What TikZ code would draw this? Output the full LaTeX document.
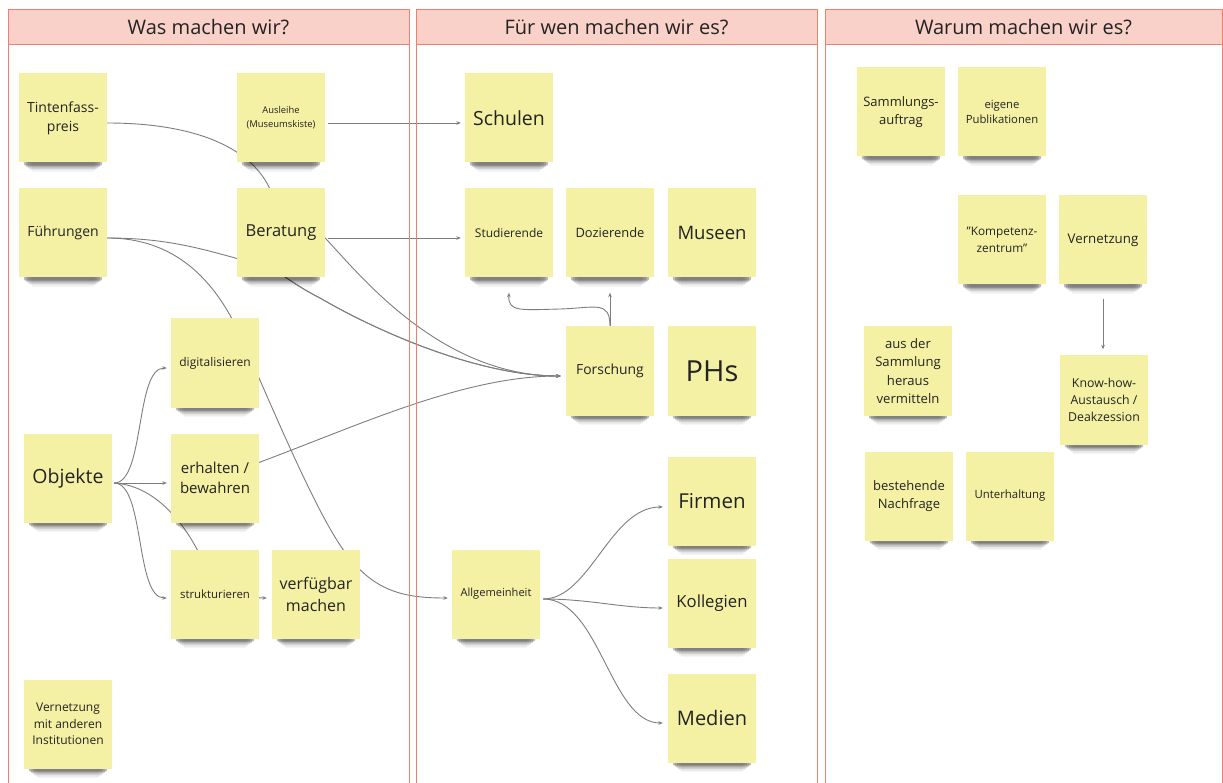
\documentclass[tikz,border=0pt]{standalone}
\usepackage{fontspec}
\setmainfont{Open Sans}
\usetikzlibrary{arrows.meta,calc}
\pgfdeclarelayer{lines}
\pgfdeclarelayer{shadows}
\pgfsetlayers{lines,shadows,main}
\definecolor{stick}{RGB}{245,241,164}
\definecolor{hdrfill}{RGB}{249,209,200}
\definecolor{hdrline}{RGB}{239,128,112}
\definecolor{connc}{RGB}{125,125,125}
\definecolor{ink}{RGB}{35,35,35}
\newcommand{\fs}[2]{\fontsize{#1}{#2}\selectfont}
\begin{document}
\begin{tikzpicture}[x=1pt,y=-1pt,
  sticky/.style={fill=stick, minimum width=88pt, minimum height=89pt, inner sep=0pt, align=center, text=ink},
  hdr/.style={fill=hdrfill, draw=hdrline, line width=1pt, minimum height=35pt, inner sep=0pt, text=ink, font=\fs{20}{24}},
  frame/.style={draw=hdrline, line width=0.8pt},
  conn/.style={draw=connc, line width=0.9pt, -{Stealth[length=4.5pt,width=3.6pt]}}]
\useasboundingbox (0,0) rectangle (1223,783);
% column frames
\draw[frame] (8,790) -- (8,10) -- (409,10) -- (409,790);
\draw[frame] (416,790) -- (416,10) -- (817,10) -- (817,790);
\draw[frame] (825,790) -- (825,10) -- (1222,10) -- (1222,790);
\node[hdr, minimum width=401pt] (h1) at (208.5,27.5) {Was machen wir?};
\node[hdr, minimum width=401pt] (h2) at (616.5,27.5) {Für wen machen wir es?};
\node[hdr, minimum width=397pt] (h3) at (1023.5,27.5) {Warum machen wir es?};
% column 1
\node[sticky, font=\fs{14}{19}] (tint) at (63,118) {Tintenfass-\\preis};
\node[sticky, font=\fs{9.4}{14}] (ausl) at (281,118) {Ausleihe\\(Museumskiste)};
\node[sticky, font=\fs{14}{19}] (fuehr) at (63,233) {Führungen};
\node[sticky, font=\fs{16.5}{20}] (ber) at (281,233) {Beratung};
\node[sticky, font=\fs{12}{16}] (dig) at (215,363) {digitalisieren};
\node[sticky, font=\fs{19.5}{24}] (obj) at (68,478) {Objekte};
\node[sticky, font=\fs{15}{20}] (erh) at (215,478) {erhalten /\\bewahren};
\node[sticky, font=\fs{11.4}{15}] (strukt) at (215,594) {strukturieren};
\node[sticky, font=\fs{16}{22}] (verf) at (316,594) {verfügbar\\machen};
\node[sticky, font=\fs{12}{16.5}] (vmit) at (68,724) {Vernetzung\\mit anderen\\Institutionen};
% column 2
\node[sticky, font=\fs{19.5}{24}] (schul) at (509,118) {Schulen};
\node[sticky, font=\fs{12}{16}] (stud) at (509,233) {Studierende};
\node[sticky, font=\fs{12.9}{16}] (dozi) at (610,233) {Dozierende};
\node[sticky, font=\fs{18.5}{23}] (mus) at (712,233) {Museen};
\node[sticky, font=\fs{13.9}{18}] (forsch) at (610,371) {Forschung};
\node[sticky, font=\fs{29}{34}] (phs) at (712,371) {PHs};
\node[sticky, font=\fs{20.5}{25}] (firm) at (712,501) {Firmen};
\node[sticky, font=\fs{11.1}{15}] (allg) at (496,594) {Allgemeinheit};
\node[sticky, font=\fs{16.7}{21}] (koll) at (712,603) {Kollegien};
\node[sticky, font=\fs{20}{25}] (med) at (712,718) {Medien};
% column 3
\node[sticky, font=\fs{13}{18}] (samm) at (901,112) {Sammlungs-\\auftrag};
\node[sticky, font=\fs{11.3}{15}] (publ) at (1002,112) {eigene\\Publikationen};
\node[sticky, font=\fs{11.8}{17}] (komp) at (1002,240) {"Kompetenz-\\zentrum"};
\node[sticky, font=\fs{13.3}{18}] (vern) at (1103,240) {Vernetzung};
\node[sticky, font=\fs{13.1}{18.3}] (aus) at (908,371) {aus der\\Sammlung\\heraus\\vermitteln};
\node[sticky, font=\fs{12.3}{17}] (know) at (1104,400) {Know-how-\\Austausch /\\Deakzession};
\node[sticky, font=\fs{13}{18}] (best) at (909,496) {bestehende\\Nachfrage};
\node[sticky, font=\fs{11.4}{15}] (unter) at (1010,496) {Unterhaltung};
% shadows
\begin{pgfonlayer}{shadows}
\foreach \n in {tint,ausl,fuehr,ber,dig,obj,erh,strukt,verf,vmit,schul,stud,dozi,mus,forsch,phs,firm,allg,koll,med,samm,publ,komp,vern,aus,know,best,unter}{
  \foreach \i/\o in {0/0.26,1/0.17,2/0.10,3/0.06,4/0.04}{
    \fill[black, opacity=\o, rounded corners=2pt]
      ($(\n.south west)+(5+2*\i,-3)$) rectangle ($(\n.south east)+(-5-2*\i,3+1.6*\i)$);
  }
}
\end{pgfonlayer}
% connectors (behind the notes)
\begin{pgfonlayer}{lines}
\draw[conn, shorten >=5pt] ([yshift=-5pt]tint.east) .. controls (215,123) and (275,160) .. (277,220)
   .. controls (278,245) and (274,262) .. (278,272)
   .. controls (292,282) and (306,291) .. (320,298) .. controls (380,333) and (480,376) .. ([yshift=-5pt]forsch.west);
\draw[conn, shorten >=5pt] ([yshift=-5pt]fuehr.east) .. controls (170,238) and (205,250) .. (250,262)
   .. controls (262,265) and (270,268) .. (278,272)
   .. controls (292,282) and (306,291) .. (320,298) .. controls (380,333) and (480,376) .. ([yshift=-5pt]forsch.west);
\draw[conn, shorten >=4pt] ([yshift=-5pt]fuehr.east) .. controls (175,238) and (215,280) .. (240,335)
   .. controls (265,390) and (310,500) .. (340,545) .. controls (370,590) and (400,598) .. ([yshift=-4pt]allg.west);
\draw[conn, shorten <=3pt, shorten >=4pt] ([yshift=-5pt]ausl.east) -- ([yshift=-5pt]schul.west);
\draw[conn, shorten <=3pt, shorten >=4pt] ([yshift=-5pt]ber.east) -- ([yshift=-5pt]stud.west);
\draw[conn, shorten >=5pt] ([yshift=-5pt]ber.east) .. controls (360,275) and (440,376) .. ([yshift=-5pt]forsch.west);
\draw[conn, shorten >=5pt] (erh.center) .. controls (330,440) and (450,376) .. ([yshift=-5pt]forsch.west);
\draw[conn, shorten <=2pt, shorten >=4pt] ([yshift=-5pt]obj.east) .. controls (145,483) and (135,368) .. ([yshift=-5pt]dig.west);
\draw[conn, shorten <=2pt, shorten >=4pt] ([yshift=-5pt]obj.east) -- ([yshift=-5pt]erh.west);
\draw[conn, shorten <=2pt, shorten >=4pt] ([yshift=-5pt]obj.east) .. controls (145,483) and (135,598) .. ([yshift=-4pt]strukt.west);
\draw[conn, shorten <=2pt, shorten >=5pt] ([yshift=-5pt]obj.east) .. controls (150,485) and (180,515) .. (200,555)
   .. controls (215,585) and (240,598) .. ([yshift=-4pt]verf.west);
\draw[conn] (forsch.north) -- ([yshift=-15pt]dozi.south);
\draw[conn] (forsch.north) .. controls (610,300) and (595,308) .. (560,309)
   .. controls (520,310) and (508,312) .. ([yshift=-15pt]stud.south);
\draw[conn, shorten <=3pt, shorten >=5pt] ([yshift=-5pt]allg.east) .. controls (590,599) and (610,507) .. ([yshift=-6pt]firm.west);
\draw[conn, shorten <=3pt, shorten >=5pt] ([yshift=-5pt]allg.east) .. controls (590,599) and (620,608) .. ([yshift=-5pt]koll.west);
\draw[conn, shorten <=3pt, shorten >=5pt] ([yshift=-5pt]allg.east) .. controls (600,599) and (610,723) .. ([yshift=-5pt]med.west);
\draw[conn, shorten <=14pt, shorten >=6pt] (vern.south) -- (vern.south |- know.north);
\end{pgfonlayer}
\end{tikzpicture}
\end{document}
